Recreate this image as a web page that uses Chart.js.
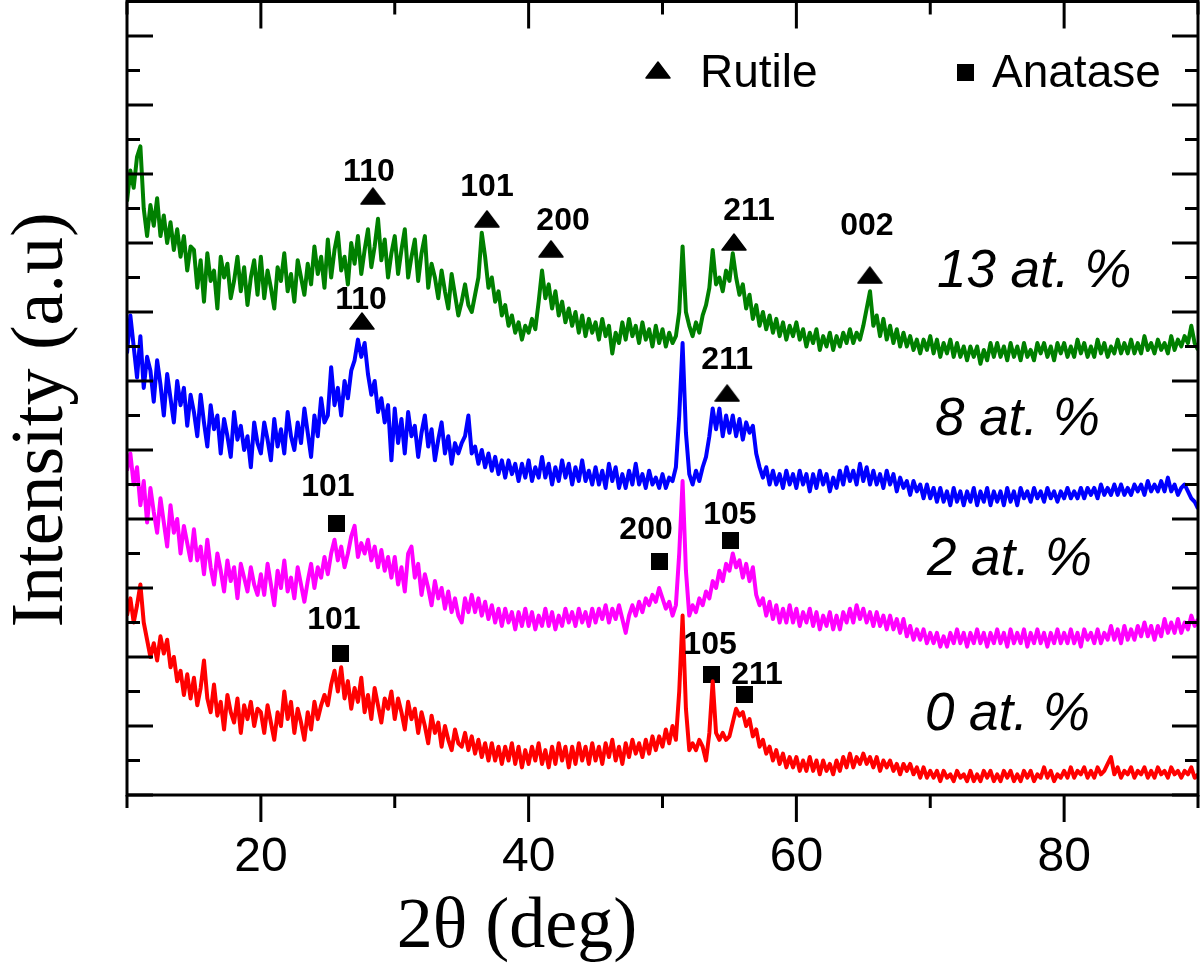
<!DOCTYPE html>
<html><head><meta charset="utf-8">
<style>html,body{margin:0;padding:0;background:#fff}canvas{display:block}</style>
<script src="https://cdn.jsdelivr.net/npm/chart.js@4/dist/chart.umd.min.js"></script>
</head><body>
<canvas id="c" width="1200" height="967" style="width:1200px;height:967px"></canvas>
<script>
// ---------- DATA ----------
const twoTheta = [
10,10.25,10.5,10.75,11,11.25,11.5,11.75,12,12.25,12.5,12.75,13,13.25,13.5,13.75,14,14.25,14.5,14.75,
15,15.25,15.5,15.75,16,16.25,16.5,16.75,17,17.25,17.5,17.75,18,18.25,18.5,18.75,19,19.25,19.5,19.75,
20,20.25,20.5,20.75,21,21.25,21.5,21.75,22,22.25,22.5,22.75,23,23.25,23.5,23.75,24,24.25,24.5,24.75,
25,25.25,25.5,25.75,26,26.25,26.5,26.75,27,27.25,27.5,27.75,28,28.25,28.5,28.75,29,29.25,29.5,29.75,
30,30.25,30.5,30.75,31,31.25,31.5,31.75,32,32.25,32.5,32.75,33,33.25,33.5,33.75,34,34.25,34.5,34.75,
35,35.25,35.5,35.75,36,36.25,36.5,36.75,37,37.25,37.5,37.75,38,38.25,38.5,38.75,39,39.25,39.5,39.75,
40,40.25,40.5,40.75,41,41.25,41.5,41.75,42,42.25,42.5,42.75,43,43.25,43.5,43.75,44,44.25,44.5,44.75,
45,45.25,45.5,45.75,46,46.25,46.5,46.75,47,47.25,47.5,47.75,48,48.25,48.5,48.75,49,49.25,49.5,49.75,
50,50.25,50.5,50.75,51,51.25,51.5,51.75,52,52.25,52.5,52.75,53,53.25,53.5,53.75,54,54.25,54.5,54.75,
55,55.25,55.5,55.75,56,56.25,56.5,56.75,57,57.25,57.5,57.75,58,58.25,58.5,58.75,59,59.25,59.5,59.75,
60,60.25,60.5,60.75,61,61.25,61.5,61.75,62,62.25,62.5,62.75,63,63.25,63.5,63.75,64,64.25,64.5,64.75,
65,65.25,65.5,65.75,66,66.25,66.5,66.75,67,67.25,67.5,67.75,68,68.25,68.5,68.75,69,69.25,69.5,69.75,
70,70.25,70.5,70.75,71,71.25,71.5,71.75,72,72.25,72.5,72.75,73,73.25,73.5,73.75,74,74.25,74.5,74.75,
75,75.25,75.5,75.75,76,76.25,76.5,76.75,77,77.25,77.5,77.75,78,78.25,78.5,78.75,79,79.25,79.5,79.75,
80,80.25,80.5,80.75,81,81.25,81.5,81.75,82,82.25,82.5,82.75,83,83.25,83.5,83.75,84,84.25,84.5,84.75,
85,85.25,85.5,85.75,86,86.25,86.5,86.75,87,87.25,87.5,87.75,88,88.25,88.5,88.75,89,89.25,89.5,89.75,
90];

const at13 = [
172,181,176,185,188,170,162,171,165,173,162,168,160,166,158,164,156,162,152,159,
158,147,155,143,157,149,152,141,156,150,154,144,149,156,146,153,142,150,155,145,
156,144,152,147,141,153,149,157,146,151,143,155,150,145,154,148,159,151,156,147,
161,150,158,163,152,156,148,160,154,162,151,158,164,153,159,167,155,161,150,157,
162,151,158,164,150,156,161,149,157,162,147,154,150,144,152,146,141,151,145,139,
143,148,142,140,145,150,163,156,147,150,143,146,139,142,136,139,134,137,132,136,
134,138,135,143,152,144,148,141,146,139,143,137,141,136,140,134,139,133,138,134,
137,132,138,133,136,128,134,131,137,132,138,133,136,131,137,132,135,130,136,131,
135,130,134,131,133,140,159,140,136,133,137,134,139,142,147,158,148,150,146,152,
149,157,150,145,148,141,145,138,142,136,140,135,139,134,138,133,137,132,136,133,
137,132,135,130,134,131,135,129,133,130,134,129,133,130,134,131,135,131,134,132,
136,141,146,136,139,133,138,132,136,131,135,130,134,130,133,129,132,128,132,129,
133,128,132,127,131,128,132,127,131,127,130,126,130,127,130,125,129,126,131,127,
131,127,130,126,131,127,130,126,131,127,129,126,131,128,131,127,130,126,131,128,
131,127,130,127,132,128,131,127,130,127,132,128,131,127,130,128,132,128,131,128,
132,128,131,128,133,129,131,128,132,129,131,128,133,129,132,130,133,131,136,131,
129];

const at8 = [
128,139,130,121,133,118,127,123,114,126,119,110,122,115,108,120,113,118,107,116,
111,104,116,108,101,113,106,110,99,109,104,98,111,103,107,100,104,95,108,102,
99,108,103,97,109,101,106,99,111,104,100,108,102,112,105,98,110,104,115,108,
110,124,113,118,110,120,115,123,126,132,127,131,122,116,120,111,115,108,113,97,
112,102,109,99,111,104,107,98,105,110,101,106,97,103,108,99,104,96,102,99,
102,104,110,99,101,96,100,95,99,94,98,93,97,92,97,93,96,91,96,92,
97,91,95,92,98,92,96,90,95,91,97,92,96,90,95,91,97,91,94,90,
95,90,94,89,96,91,95,89,93,89,94,90,96,90,93,89,94,90,92,89,
93,89,92,91,95,110,131,105,93,90,94,91,95,98,104,112,106,112,104,110,
105,110,104,109,103,108,105,107,99,95,92,95,90,94,90,93,89,94,90,93,
89,94,90,93,88,93,89,94,90,93,88,92,89,94,90,95,91,94,90,96,
91,95,90,94,90,93,89,94,90,93,88,92,89,91,87,91,88,90,86,90,
86,89,85,89,85,88,84,89,85,88,84,88,85,89,84,88,85,89,84,88,
85,88,84,89,85,88,84,89,86,88,85,89,86,88,85,89,86,88,85,88,
86,89,86,88,86,89,86,89,87,89,86,90,87,89,87,90,87,90,87,89,
87,90,88,90,87,91,88,90,88,91,88,92,88,90,87,89,90,88,86,85,
83];

const at2 = [
94,99,90,95,84,91,79,89,82,76,86,79,72,84,76,80,70,78,73,68,
77,68,72,64,74,66,61,70,65,59,68,62,66,57,67,63,59,66,61,58,
64,58,67,61,55,65,60,68,59,63,57,66,61,56,62,67,60,66,63,69,
64,70,74,68,72,66,70,75,78,69,73,70,74,68,72,66,71,65,69,63,
69,61,66,59,70,72,63,67,58,64,60,55,62,57,60,54,59,53,57,52,
50,57,53,58,53,57,52,56,51,55,50,54,49,54,50,53,48,53,49,54,
49,53,48,52,49,54,49,53,48,52,49,54,50,53,49,54,50,53,49,54,
50,54,51,55,50,54,51,55,51,47,52,55,52,56,53,57,55,58,56,60,
57,54,56,52,55,70,91,65,52,55,53,57,55,59,57,62,60,65,62,67,
65,70,66,68,63,67,62,66,58,55,57,52,56,51,55,50,54,50,55,50,
54,49,53,50,54,49,53,48,52,49,53,48,52,48,53,50,54,50,55,51,
54,50,53,49,53,49,52,48,52,48,51,47,51,46,49,45,48,45,48,44,
47,44,47,43,46,43,47,44,48,44,47,43,47,44,48,44,47,43,47,44,
48,44,47,43,48,44,47,44,48,43,47,44,48,44,47,43,47,44,48,44,
47,44,48,44,47,43,48,45,47,44,48,44,47,45,49,45,48,44,49,45,
48,45,49,46,50,46,49,45,49,46,51,47,50,47,51,47,50,48,52,49,
51];

const at0 = [
52,57,50,55,61,50,45,40,44,39,46,41,45,37,40,33,36,29,35,28,
34,26,31,39,28,24,32,23,27,19,29,24,21,28,18,26,22,27,20,25,
24,18,26,21,16,24,20,30,22,27,18,25,21,16,24,19,27,22,26,29,
26,32,36,30,37,28,33,25,31,27,34,24,29,22,31,26,21,28,25,30,
22,28,24,19,27,22,25,18,24,20,15,23,18,21,14,20,16,13,19,15,
14,18,13,17,12,16,11,15,10,15,10,14,9,14,10,15,9,14,8,13,
9,14,10,15,9,13,8,14,9,15,10,14,8,14,9,15,10,14,9,15,
10,14,9,15,11,16,10,14,9,15,11,16,12,15,11,16,12,17,13,17,
14,19,15,20,16,30,52,25,13,15,13,16,14,10,18,33,18,16,18,16,
17,21,25,23,24,20,22,17,19,14,16,12,14,10,13,9,12,8,11,8,
11,7,10,7,11,7,10,6,10,7,9,6,10,7,11,8,12,8,11,9,
12,9,11,8,11,7,10,8,10,7,9,6,9,7,9,6,8,5,8,5,
7,5,7,4,7,5,6,4,7,5,6,4,7,4,6,4,7,5,7,4,
6,4,7,5,7,4,6,4,7,5,7,4,6,5,8,5,7,4,6,5,
7,5,8,5,7,6,8,5,7,5,8,6,7,9,11,6,8,5,7,6,
8,5,7,6,8,5,7,5,8,6,7,5,8,6,7,5,7,6,8,5,
6];

// Rutile (triangle) and Anatase (square) reflections
const rutileX   = [28.37, 36.89, 41.67, 55.34, 65.49, 27.55, 54.83];
const rutileY   = [173.6, 167.0, 158.3, 160.3, 150.7, 137.4, 116.5];
const rutileHkl = ['110','101','200','211','002','110','211'];
const rutileLabelX = [28.07, 36.89, 42.57, 56.46, 65.27, 27.48, 54.83];
const rutileLabelY = [181.4, 176.8, 167.2, 170.1, 165.5, 144.3, 126.7];

const anataseX   = [25.68, 49.81, 55.11, 25.98, 53.69, 56.15];
const anataseY   = [78.6, 67.8, 73.9, 40.9, 34.8, 29.0];
const anataseHkl = ['101','200','105','101','105','211'];
const anataseLabelX = [25.01, 48.77, 55.04, 25.46, 53.55, 57.06];
const anataseLabelY = [90.1, 77.4, 82.0, 51.3, 44.1, 35.4];

const sampleNames  = ['13 at. %','8 at. %','2 at. %','0 at. %'];
const sampleLabelX = [70.5, 70.35, 69.75, 69.6];
const sampleLabelY = [147.2, 104.3, 63.8, 18.8];

const xTickValues = [10,20,30,40,50,60,70,80,90];
const xTickLabels = [20,40,60,80];
const yTickValues = [0,10,20,30,40,50,60,70,80,90,100,110,120,130,140,150,160,170,180,190,200,210,220,230];

// ---------- MARKER IMAGES ----------
function triImg(){
  const c=document.createElement('canvas'); c.width=26; c.height=18;
  const g=c.getContext('2d'); g.fillStyle='#000'; g.lineJoin='round';
  g.beginPath(); g.moveTo(1,17); g.lineTo(13,1); g.lineTo(25,17); g.closePath();
  g.fill(); g.strokeStyle='#000'; g.lineWidth=1.5; g.stroke(); return c;
}
function sqImg(){
  const c=document.createElement('canvas'); c.width=17; c.height=17;
  const g=c.getContext('2d'); g.fillStyle='#000'; g.fillRect(0,0,17,17); return c;
}
const TRI=triImg(), SQ=sqImg();

const pts=(xs,ys)=>xs.map((v,i)=>({x:v,y:ys[i]}));
const lineDs=(label,vals,color)=>({label,data:pts(twoTheta,vals),borderColor:color,borderWidth:4,pointRadius:0,fill:false,tension:0,borderJoinStyle:'round'});

const deco = {
  id:'deco',
  afterDatasetsDraw(chart){
    const {ctx, chartArea:a, scales:{x,y}} = chart;
    ctx.save();
    ctx.strokeStyle='#000'; ctx.lineWidth=3; ctx.lineCap='butt';
    const ln=(x1,y1,x2,y2)=>{ctx.beginPath();ctx.moveTo(x1,y1);ctx.lineTo(x2,y2);ctx.stroke();};
    xTickValues.forEach(v=>{
      const px=x.getPixelForValue(v);
      const L = xTickLabels.includes(v)?27:13;
      ln(px,a.bottom,px,a.bottom+L);
      ln(px,a.top,px,a.top+L);
    });
    yTickValues.forEach(v=>{
      const py=y.getPixelForValue(v);
      const L = (v%20===0)?26:13;
      ln(a.left,py,a.left+L,py);
      ln(a.right,py,a.right-L,py);
    });
    ctx.strokeRect(a.left,a.top,a.right-a.left,a.bottom-a.top);
    // tick labels
    ctx.fillStyle='#000';
    ctx.font='48px "Liberation Sans", Arial, sans-serif';
    ctx.textAlign='center'; ctx.textBaseline='alphabetic';
    xTickLabels.forEach(v=>ctx.fillText(String(v), x.getPixelForValue(v), 871));
    // axis titles
    ctx.font='72px "Liberation Serif", "Times New Roman", serif';
    ctx.fillText('2\u03b8 (deg)', 517, 947);
    ctx.save(); ctx.translate(62,420); ctx.rotate(-Math.PI/2);
    ctx.font='74px "Liberation Serif", "Times New Roman", serif';
    ctx.fillText('Intensity (a.u)',0,0); ctx.restore();
    // hkl labels
    ctx.font='bold 32px "Liberation Sans", Arial, sans-serif';
    rutileHkl.forEach((t,i)=>ctx.fillText(t, x.getPixelForValue(rutileLabelX[i]), y.getPixelForValue(rutileLabelY[i])+11.4));
    anataseHkl.forEach((t,i)=>ctx.fillText(t, x.getPixelForValue(anataseLabelX[i]), y.getPixelForValue(anataseLabelY[i])+11.4));
    // sample labels
    ctx.font='italic 53px "Liberation Sans", Arial, sans-serif';
    ctx.textAlign='left';
    sampleNames.forEach((t,i)=>ctx.fillText(t, x.getPixelForValue(sampleLabelX[i]), y.getPixelForValue(sampleLabelY[i])));
    // legend
    ctx.font='46px "Liberation Sans", Arial, sans-serif';
    ctx.drawImage(TRI, 658-13, 70-9);
    ctx.fillText('Rutile', 700, 87);
    ctx.drawImage(SQ, 965-8.5, 72-8.5);
    ctx.fillText('Anatase', 992, 87);
    ctx.restore();
  }
};

new Chart(document.getElementById('c'), {
  type:'line',
  data:{datasets:[
    lineDs('0 at. %', at0, '#ff0000'),
    lineDs('2 at. %', at2, '#ff00ff'),
    lineDs('8 at. %', at8, '#0000ff'),
    lineDs('13 at. %', at13, '#008000'),
    {label:'Rutile', data:pts(rutileX,rutileY), showLine:false, pointStyle:TRI, pointRadius:10, pointHoverRadius:10},
    {label:'Anatase', data:pts(anataseX,anataseY), showLine:false, pointStyle:SQ, pointRadius:9, pointHoverRadius:9}
  ]},
  options:{
    responsive:false, animation:false, devicePixelRatio:1,
    layout:{autoPadding:false, padding:{left:127,top:1.5,right:2,bottom:172}},
    plugins:{legend:{display:false},tooltip:{enabled:false}},
    events:[],
    scales:{
      x:{type:'linear',min:10,max:90,display:false},
      y:{type:'linear',min:0,max:230,display:false}
    }
  },
  plugins:[deco]
});
</script>
</body></html>
